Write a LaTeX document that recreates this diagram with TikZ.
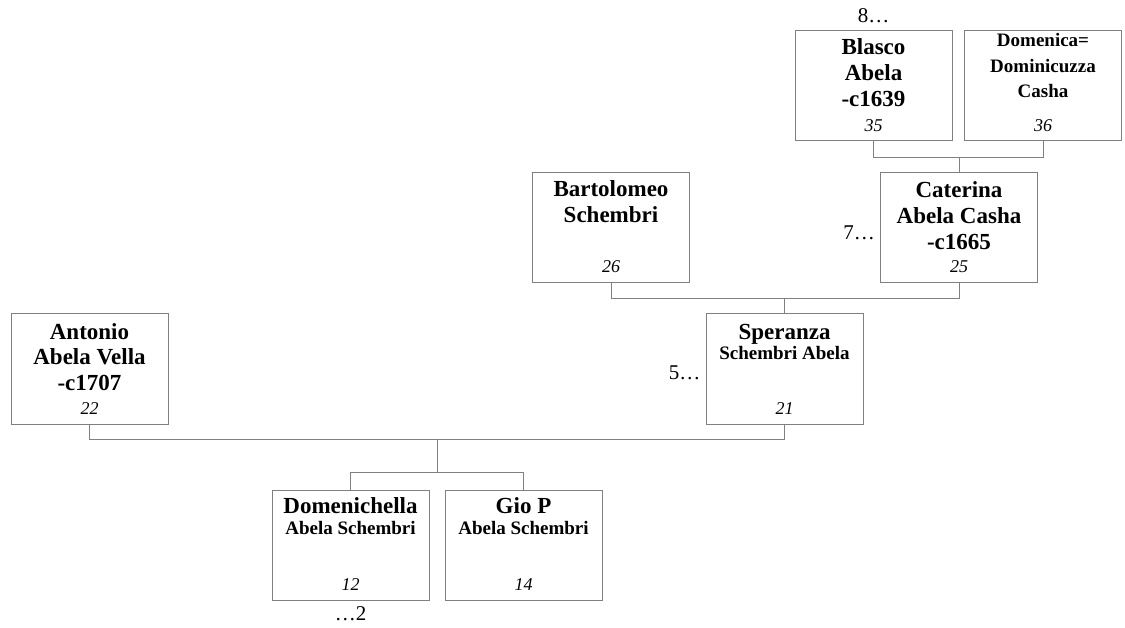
\documentclass[tikz,border=0pt]{standalone}
\usepackage{fontspec}
\setmainfont{Liberation Serif}
\definecolor{linegray}{RGB}{128,128,128}
\begin{document}
\begin{tikzpicture}[x=1pt,y=-1pt,
  person/.style={draw=linegray, line width=1pt, minimum width=157pt, minimum height=110pt, inner sep=0pt},
  big/.style={font=\fontsize{23}{26}\selectfont\bfseries, inner sep=0pt, anchor=base},
  small/.style={font=\fontsize{19}{22}\selectfont\bfseries, inner sep=0pt, anchor=base},
  num/.style={font=\fontsize{18}{20}\selectfont\itshape, inner sep=0pt, anchor=base},
  gen/.style={font=\fontsize{21}{24}\selectfont, inner sep=0pt},
  link/.style={draw=linegray, line width=1pt}]
\useasboundingbox (0,0) rectangle (1125,628);

% boxes
\node[person] (blasco) at (873.5,86) {};
\node[person] (domenica) at (1043,86) {};
\node[person] (bartolomeo) at (611,227.5) {};
\node[person] (caterina) at (959,227.5) {};
\node[person] (antonio) at (89.5,369) {};
\node[person] (speranza) at (784.5,369) {};
\node[person] (domenichella) at (350.5,545) {};
\node[person] (gio) at (523.5,545) {};

% Blasco
\node[big] (blasco-a) at ([yshift=-24]blasco.north) {Blasco};
\node[big] (blasco-b) at ([yshift=-50]blasco.north) {Abela};
\node[big] (blasco-c) at ([yshift=-76]blasco.north) {-c1639};
\node[num] (blasco-n) at ([yshift=10]blasco.south) {35};
\node[gen,anchor=base] (gen8) at ([yshift=8]blasco.north) {8…};

% Domenica
\node[small] (domenica-a) at ([yshift=-16]domenica.north) {Domenica=};
\node[small] (domenica-b) at ([yshift=-42]domenica.north) {Dominicuzza};
\node[small] (domenica-c) at ([yshift=-67]domenica.north) {Casha};
\node[num] (domenica-n) at ([yshift=10]domenica.south) {36};

% Bartolomeo
\node[big] (bartolomeo-a) at ([yshift=-25]bartolomeo.north) {Bartolomeo};
\node[big] (bartolomeo-b) at ([yshift=-51]bartolomeo.north) {Schembri};
\node[num] (bartolomeo-n) at ([yshift=10]bartolomeo.south) {26};

% Caterina
\node[big] (caterina-a) at ([yshift=-26]caterina.north) {Caterina};
\node[big] (caterina-b) at ([yshift=-52]caterina.north) {Abela Casha};
\node[big] (caterina-c) at ([yshift=-78]caterina.north) {-c1665};
\node[num] (caterina-n) at ([yshift=10]caterina.south) {25};
\node[gen,anchor=base east] (gen7) at ([xshift=-5,yshift=-12]caterina.west) {7…};

% Antonio
\node[big] (antonio-a) at ([yshift=-26]antonio.north) {Antonio};
\node[big] (antonio-b) at ([yshift=-51]antonio.north) {Abela Vella};
\node[big] (antonio-c) at ([yshift=-77]antonio.north) {-c1707};
\node[num] (antonio-n) at ([yshift=10]antonio.south) {22};

% Speranza
\node[big] (speranza-a) at ([yshift=-26]speranza.north) {Speranza};
\node[small] (speranza-b) at ([yshift=-46]speranza.north) {Schembri Abela};
\node[num] (speranza-n) at ([yshift=10]speranza.south) {21};
\node[gen,anchor=base east] (gen5) at ([xshift=-5,yshift=-11]speranza.west) {5…};

% Domenichella
\node[big] (domenichella-a) at ([yshift=-24]domenichella.north) {Domenichella};
\node[small] (domenichella-b) at ([yshift=-45]domenichella.north) {Abela Schembri};
\node[num] (domenichella-n) at ([yshift=10]domenichella.south) {12};
\node[gen,anchor=base] (gen2) at ([yshift=-20]domenichella.south) {…2};

% Gio
\node[big] (gio-a) at ([yshift=-24]gio.north) {Gio P};
\node[small] (gio-b) at ([yshift=-45]gio.north) {Abela Schembri};
\node[num] (gio-n) at ([yshift=10]gio.south) {14};

% connectors
\draw[link] (blasco.south) -- ++(0,16) coordinate (b1) -| (domenica.south);
\draw[link] (caterina.north) -- (caterina.north |- b1);
\draw[link] (bartolomeo.south) -- ++(0,16) coordinate (b2) -| (caterina.south);
\draw[link] (speranza.north) -- (speranza.north |- b2);
\draw[link] (antonio.south) -- ++(0,15) coordinate (b3) -| (speranza.south);
\draw[link] (domenichella.north) -- ++(0,-17) coordinate (b4) -| (gio.north);
\path (domenichella.north) -- (gio.north) coordinate[midway] (kids);
\draw[link] (kids |- b3) -- (kids |- b4);
\end{tikzpicture}
\end{document}
